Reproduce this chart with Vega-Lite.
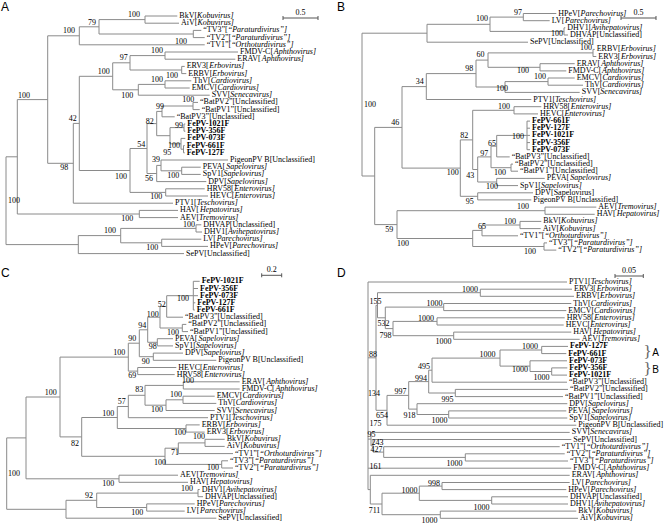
{
"$schema": "https://vega.github.io/schema/vega-lite/v6.json",
"width": 664, "height": 525, "padding": 0, "autosize": {"type": "none"},
"background": "white",
"config": {"view": {"stroke": null}, "text": {"fill": "#000"}},
"datasets": {
"tree": [
{"x0":99,"x":145,"y":19.6,"ya":16,"yb":23.2},
{"x0":99,"x":193.3,"y":34,"ya":30.4,"yb":37.6},
{"x0":79.3,"x":99,"y":26.8,"ya":19.6,"yb":34},
{"x0":47.7,"x":79.3,"y":35.8,"ya":26.8,"yb":44.8},
{"x0":130,"x":165,"y":55.6,"ya":52,"yb":59.2},
{"x0":130,"x":181.7,"y":70,"ya":66.4,"yb":73.6},
{"x0":112.7,"x":130,"y":62.8,"ya":55.6,"yb":70},
{"x0":138.3,"x":165,"y":84.4,"ya":80.8,"yb":88},
{"x0":112.7,"x":138.3,"y":89.8,"ya":84.4,"yb":95.2},
{"x0":79.3,"x":112.7,"y":76.3,"ya":62.8,"yb":89.8},
{"x0":162,"x":193,"y":106,"ya":102.4,"yb":109.6},
{"x0":156.7,"x":162,"y":111.4,"ya":106,"yb":116.8},
{"x0":170,"x":184,"y":127.6,"ya":124,"yb":131.2},
{"x0":181,"x":183.5,"y":149.2,"ya":145.6,"yb":152.8},
{"x0":170,"x":181,"y":143.8,"ya":138.4,"yb":149.2},
{"x0":156.7,"x":170,"y":135.7,"ya":127.6,"yb":143.8},
{"x0":147,"x":156.7,"y":123.6,"ya":111.4,"yb":135.7},
{"x0":161,"x":181.7,"y":170.8,"ya":167.2,"yb":174.4},
{"x0":156.7,"x":161,"y":165.4,"ya":160,"yb":170.8},
{"x0":147,"x":156.7,"y":173.5,"ya":165.4,"yb":181.6},
{"x0":130,"x":147,"y":148.5,"ya":123.6,"yb":173.5},
{"x0":130,"x":165.7,"y":192.4,"ya":188.8,"yb":196},
{"x0":79.3,"x":130,"y":170.5,"ya":148.5,"yb":192.4},
{"x0":73.3,"x":79.3,"y":123.4,"ya":76.3,"yb":170.5},
{"x0":47.7,"x":73.3,"y":163.3,"ya":123.4,"yb":203.2},
{"x0":17.3,"x":47.7,"y":99.6,"ya":35.8,"yb":163.3},
{"x0":17.3,"x":139.3,"y":214,"ya":210.4,"yb":217.6},
{"x0":6,"x":17.3,"y":156.8,"ya":99.6,"yb":214},
{"x0":120.7,"x":196,"y":228.4,"ya":224.8,"yb":232},
{"x0":120.7,"x":161.7,"y":242.8,"ya":239.2,"yb":246.4},
{"x0":78.3,"x":120.7,"y":235.6,"ya":228.4,"yb":242.8},
{"x0":6,"x":78.3,"y":244.6,"ya":235.6,"yb":253.6},
{"x0":6,"x":6,"y":200.7,"ya":156.8,"yb":244.6},
{"x0":145,"x":177.3,"y":16,"n":"BkV","g":"Kobuvirus"},
{"x0":145,"x":179,"y":23.2,"n":"AiV","g":"Kobuvirus"},
{"x0":193.3,"x":201.3,"y":30.4,"n":"“TV3”","g":"“Paraturdivirus”"},
{"x0":193.3,"x":204.7,"y":37.6,"n":"“TV2”","g":"“Paraturdivirus”"},
{"x0":79.3,"x":204.7,"y":44.8,"n":"“TV1”","g":"“Orthoturdivirus”"},
{"x0":165,"x":238,"y":52,"n":"FMDV-C","g":"Aphthovirus"},
{"x0":165,"x":235.3,"y":59.2,"n":"ERAV","g":"Aphthovirus"},
{"x0":181.7,"x":184.7,"y":66.4,"n":"ERV3","g":"Erbovirus"},
{"x0":181.7,"x":186.3,"y":73.6,"n":"ERBV","g":"Erbovirus"},
{"x0":165,"x":191.3,"y":80.8,"n":"ThV","g":"Cardiovirus"},
{"x0":165,"x":189.7,"y":88,"n":"EMCV","g":"Cardiovirus"},
{"x0":138.3,"x":209.7,"y":95.2,"n":"SVV","g":"Senecavirus"},
{"x0":193,"x":198,"y":102.4,"n":"“BatPV2”[Unclassified]"},
{"x0":193,"x":199.7,"y":109.6,"n":"“BatPV1”[Unclassified]"},
{"x0":162,"x":174.7,"y":116.8,"n":"“BatPV3”[Unclassified]"},
{"x0":184,"x":185.3,"y":124,"n":"FePV-1021F"},
{"x0":184,"x":185.3,"y":131.2,"n":"FePV-356F"},
{"x0":181,"x":185.3,"y":138.4,"n":"FePV-073F"},
{"x0":183.5,"x":184.7,"y":145.6,"n":"FePV-661F"},
{"x0":183.5,"x":184.7,"y":152.8,"n":"FePV-127F"},
{"x0":161,"x":228,"y":160,"n":"PigeonPV B[Unclassified]"},
{"x0":181.7,"x":200.7,"y":167.2,"n":"PEVA","g":"Sapelovirus"},
{"x0":181.7,"x":200.7,"y":174.4,"n":"SpV1","g":"Sapelovirus"},
{"x0":156.7,"x":206.3,"y":181.6,"n":"DPV","g":"Sapelovirus"},
{"x0":165.7,"x":204.7,"y":188.8,"n":"HRV58","g":"Enterovirus"},
{"x0":165.7,"x":208,"y":196,"n":"HEVC","g":"Enterovirus"},
{"x0":73.3,"x":173,"y":203.2,"n":"PTV1","g":"Teschovirus"},
{"x0":139.3,"x":178,"y":210.4,"n":"HAV","g":"Hepatovirus"},
{"x0":139.3,"x":178,"y":217.6,"n":"AEV","g":"Tremovirus"},
{"x0":196,"x":201.3,"y":224.8,"n":"DHVAP[Unclassified]"},
{"x0":196,"x":202,"y":232,"n":"DHV1","g":"Avihepatovirus"},
{"x0":161.7,"x":201.3,"y":239.2,"n":"LV","g":"Parechovirus"},
{"x0":161.7,"x":208,"y":246.4,"n":"HPeV","g":"Parechovirus"},
{"x0":78.3,"x":184,"y":253.6,"n":"SePV[Unclassified]"},

{"x0":490,"x":523.3,"y":17.1,"ya":13.5,"yb":20.7},
{"x0":490,"x":564,"y":31.4,"ya":27.8,"yb":35},
{"x0":427,"x":490,"y":24.3,"ya":17.1,"yb":31.4},
{"x0":362,"x":427,"y":33.2,"ya":24.3,"yb":42.2},
{"x0":488,"x":593,"y":52.9,"ya":49.4,"yb":56.5},
{"x0":488,"x":540,"y":67.3,"ya":63.7,"yb":70.9},
{"x0":476,"x":488,"y":60.1,"ya":52.9,"yb":67.3},
{"x0":505,"x":548,"y":81.6,"ya":78,"yb":85.2},
{"x0":476,"x":505,"y":87,"ya":81.6,"yb":92.4},
{"x0":426.3,"x":476,"y":73.6,"ya":60.1,"yb":87},
{"x0":402,"x":426.3,"y":86.6,"ya":73.6,"yb":99.5},
{"x0":472.7,"x":514,"y":110.3,"ya":106.7,"yb":113.9},
{"x0":496.7,"x":527,"y":135.4,"ya":121.1,"yb":149.7},
{"x0":491,"x":496.7,"y":146.2,"ya":135.4,"yb":156.9},
{"x0":491,"x":511,"y":167.7,"ya":164.1,"yb":171.2},
{"x0":477.7,"x":491,"y":156.9,"ya":146.2,"yb":167.7},
{"x0":477.7,"x":496.7,"y":182,"ya":178.4,"yb":185.6},
{"x0":472.7,"x":477.7,"y":169.5,"ya":156.9,"yb":182},
{"x0":460.3,"x":472.7,"y":139.9,"ya":110.3,"yb":169.5},
{"x0":460.3,"x":477.7,"y":196.3,"ya":192.8,"yb":199.9},
{"x0":402,"x":460.3,"y":168.1,"ya":139.9,"yb":196.3},
{"x0":374.7,"x":402,"y":127.4,"ya":86.6,"yb":168.1},
{"x0":397,"x":545,"y":210.7,"ya":207.1,"yb":214.3},
{"x0":482,"x":520,"y":225,"ya":221.4,"yb":228.6},
{"x0":472.7,"x":482,"y":230.4,"ya":225,"yb":235.8},
{"x0":472.7,"x":544,"y":246.5,"ya":242.9,"yb":250.1},
{"x0":397,"x":472.7,"y":238.5,"ya":230.4,"yb":246.5},
{"x0":374.7,"x":397,"y":224.6,"ya":210.7,"yb":238.5},
{"x0":362,"x":374.7,"y":176,"ya":127.4,"yb":224.6},
{"x0":362,"x":362,"y":104.6,"ya":33.2,"yb":176},
{"x0":523.3,"x":556.3,"y":13.5,"n":"HPeV","g":"Parechovirus"},
{"x0":523.3,"x":549.7,"y":20.7,"n":"LV","g":"Parechovirus"},
{"x0":564,"x":565.3,"y":27.8,"n":"DHV1","g":"Avihepatovirus"},
{"x0":564,"x":568,"y":35,"n":"DHVAP[Unclassified]"},
{"x0":427,"x":528,"y":42.2,"n":"SePV[Unclassified]"},
{"x0":593,"x":594.7,"y":49.4,"n":"ERBV","g":"Erbovirus"},
{"x0":593,"x":596.3,"y":56.5,"n":"ERV3","g":"Erbovirus"},
{"x0":540,"x":574.7,"y":63.7,"n":"ERAV","g":"Aphthovirus"},
{"x0":540,"x":566.3,"y":70.9,"n":"FMDV-C","g":"Aphthovirus"},
{"x0":548,"x":574.7,"y":78,"n":"EMCV","g":"Cardiovirus"},
{"x0":548,"x":583,"y":85.2,"n":"ThV","g":"Cardiovirus"},
{"x0":505,"x":579.7,"y":92.4,"n":"SVV","g":"Senecavirus"},
{"x0":426.3,"x":531.3,"y":99.5,"n":"PTV1","g":"Teschovirus"},
{"x0":514,"x":541.3,"y":106.7,"n":"HRV58","g":"Enterovirus"},
{"x0":514,"x":538,"y":113.9,"n":"HEVC","g":"Enterovirus"},
{"x0":527,"x":530,"y":121.1,"n":"FePV-661F"},
{"x0":527,"x":530,"y":128.2,"n":"FePV-127F"},
{"x0":527,"x":530,"y":135.4,"n":"FePV-1021F"},
{"x0":527,"x":530,"y":142.6,"n":"FePV-356F"},
{"x0":527,"x":530,"y":149.7,"n":"FePV-073F"},
{"x0":496.7,"x":509.7,"y":156.9,"n":"“BatPV3”[Unclassified]"},
{"x0":511,"x":513,"y":164.1,"n":"“BatPV2”[Unclassified]"},
{"x0":511,"x":518,"y":171.2,"n":"“BatPV1”[Unclassified]"},
{"x0":496.7,"x":544.7,"y":178.4,"n":"PEVA","g":"Sapelovirus"},
{"x0":496.7,"x":518,"y":185.6,"n":"SpV1","g":"Sapelovirus"},
{"x0":477.7,"x":533,"y":192.8,"n":"DPV[Sapelovirus]"},
{"x0":477.7,"x":531.3,"y":199.9,"n":"PigeonPV B[Unclassified]"},
{"x0":545,"x":596.3,"y":207.1,"n":"AEV","g":"Tremovirus"},
{"x0":545,"x":594.7,"y":214.3,"n":"HAV","g":"Hepatovirus"},
{"x0":520,"x":541.3,"y":221.4,"n":"BkV","g":"Kobuvirus"},
{"x0":520,"x":540.7,"y":228.6,"n":"AiV","g":"Kobuvirus"},
{"x0":482,"x":518,"y":235.8,"n":"“TV1”","g":"“Orthoturdivirus”"},
{"x0":544,"x":547,"y":242.9,"n":"“TV3”","g":"“Paraturdivirus”"},
{"x0":544,"x":556.3,"y":250.1,"n":"“TV2”","g":"“Paraturdivirus”"},

{"x0":166.7,"x":193.3,"y":295.7,"ya":281.3,"yb":310},
{"x0":160,"x":166.7,"y":306.4,"ya":295.7,"yb":317.2},
{"x0":160,"x":182.3,"y":328,"ya":324.4,"yb":331.6},
{"x0":147.7,"x":160,"y":317.2,"ya":306.4,"yb":328},
{"x0":147.7,"x":157.3,"y":342.3,"ya":338.7,"yb":345.9},
{"x0":139.3,"x":147.7,"y":329.8,"ya":317.2,"yb":342.3},
{"x0":139.3,"x":153.3,"y":356.7,"ya":353.1,"yb":360.3},
{"x0":128.3,"x":139.3,"y":343.2,"ya":329.8,"yb":356.7},
{"x0":128.3,"x":137.7,"y":371.1,"ya":367.5,"yb":374.6},
{"x0":60,"x":128.3,"y":357.1,"ya":343.2,"yb":371.1},
{"x0":145,"x":183.3,"y":385.4,"ya":381.8,"yb":389},
{"x0":166,"x":183,"y":399.8,"ya":396.2,"yb":403.4},
{"x0":145,"x":166,"y":405.2,"ya":399.8,"yb":410.5},
{"x0":128.3,"x":145,"y":395.3,"ya":385.4,"yb":405.2},
{"x0":117.3,"x":128.3,"y":406.5,"ya":395.3,"yb":417.7},
{"x0":117.3,"x":186,"y":428.5,"ya":424.9,"yb":432.1},
{"x0":81.7,"x":117.3,"y":417.5,"ya":406.5,"yb":428.5},
{"x0":178.3,"x":205,"y":442.9,"ya":439.3,"yb":446.4},
{"x0":165,"x":178.3,"y":448.2,"ya":442.9,"yb":453.6},
{"x0":165,"x":221.7,"y":464.4,"ya":460.8,"yb":468},
{"x0":81.7,"x":165,"y":456.3,"ya":448.2,"yb":464.4},
{"x0":60,"x":81.7,"y":436.9,"ya":417.5,"yb":456.3},
{"x0":26,"x":60,"y":397,"ya":357.1,"yb":436.9},
{"x0":26,"x":119,"y":478.8,"ya":475.2,"yb":482.3},
{"x0":6.7,"x":26,"y":437.9,"ya":397,"yb":478.8},
{"x0":96.7,"x":198,"y":493.1,"ya":489.5,"yb":496.7},
{"x0":96.7,"x":146.7,"y":507.5,"ya":503.9,"yb":511.1},
{"x0":66,"x":96.7,"y":500.3,"ya":493.1,"yb":507.5},
{"x0":6.7,"x":66,"y":509.3,"ya":500.3,"yb":518.2},
{"x0":6.7,"x":6.7,"y":473.6,"ya":437.9,"yb":509.3},
{"x0":193.3,"x":199.7,"y":281.3,"n":"FePV-1021F"},
{"x0":193.3,"x":198,"y":288.5,"n":"FePV-356F"},
{"x0":193.3,"x":198,"y":295.7,"n":"FePV-073F"},
{"x0":193.3,"x":195.3,"y":302.8,"n":"FePV-127F"},
{"x0":193.3,"x":194.7,"y":310,"n":"FePV-661F"},
{"x0":166.7,"x":183,"y":317.2,"n":"“BatPV3”[Unclassified]"},
{"x0":182.3,"x":186.3,"y":324.4,"n":"“BatPV2”[Unclassified]"},
{"x0":182.3,"x":188,"y":331.6,"n":"“BatPV1”[Unclassified]"},
{"x0":157.3,"x":173,"y":338.7,"n":"PEVA","g":"Sapelovirus"},
{"x0":157.3,"x":173,"y":345.9,"n":"SpV1","g":"Sapelovirus"},
{"x0":153.3,"x":183,"y":353.1,"n":"DPV","g":"Sapelovirus"},
{"x0":153.3,"x":216.3,"y":360.3,"n":"PigeonPV B[Unclassified]"},
{"x0":137.7,"x":176.3,"y":367.5,"n":"HEVC","g":"Enterovirus"},
{"x0":137.7,"x":174.7,"y":374.6,"n":"HRV58","g":"Enterovirus"},
{"x0":183.3,"x":239.7,"y":381.8,"n":"ERAV","g":"Aphthovirus"},
{"x0":183.3,"x":239.7,"y":389,"n":"FMDV-C","g":"Aphthovirus"},
{"x0":183,"x":214.7,"y":396.2,"n":"EMCV","g":"Cardiovirus"},
{"x0":183,"x":216.3,"y":403.4,"n":"ThV","g":"Cardiovirus"},
{"x0":166,"x":214.7,"y":410.5,"n":"SVV","g":"Senecavirus"},
{"x0":128.3,"x":208,"y":417.7,"n":"PTV1","g":"Teschovirus"},
{"x0":186,"x":199.7,"y":424.9,"n":"ERBV","g":"Erbovirus"},
{"x0":186,"x":204.7,"y":432.1,"n":"ERV3","g":"Erbovirus"},
{"x0":205,"x":224.7,"y":439.3,"n":"BkV","g":"Kobuvirus"},
{"x0":205,"x":224.7,"y":446.4,"n":"AiV","g":"Kobuvirus"},
{"x0":178.3,"x":233,"y":453.6,"n":"“TV1”","g":"“Orthoturdivirus”"},
{"x0":221.7,"x":228,"y":460.8,"n":"“TV3”","g":"“Paraturdivirus”"},
{"x0":221.7,"x":233,"y":468,"n":"“TV2”","g":"“Paraturdivirus”"},
{"x0":119,"x":178,"y":475.2,"n":"AEV","g":"Tremovirus"},
{"x0":119,"x":188,"y":482.3,"n":"HAV","g":"Hepatovirus"},
{"x0":198,"x":199.7,"y":489.5,"n":"DHV1","g":"Avihepatovirus"},
{"x0":198,"x":203,"y":496.7,"n":"DHVAP[Unclassified]"},
{"x0":146.7,"x":194.7,"y":503.9,"n":"HPeV","g":"Parechovirus"},
{"x0":146.7,"x":184.7,"y":511.1,"n":"LV","g":"Parechovirus"},
{"x0":66,"x":216.3,"y":518.2,"n":"SePV[Unclassified]"},

{"x0":377.5,"x":480.3,"y":292.7,"ya":289.2,"yb":296.3},
{"x0":385.3,"x":443.7,"y":307.1,"ya":303.5,"yb":310.6},
{"x0":393,"x":437,"y":321.4,"ya":317.8,"yb":325},
{"x0":393,"x":453.7,"y":335.7,"ya":332.1,"yb":339.3},
{"x0":385.3,"x":393,"y":328.6,"ya":321.4,"yb":335.7},
{"x0":377.5,"x":385.3,"y":317.8,"ya":307.1,"yb":328.6},
{"x0":376,"x":377.5,"y":305.3,"ya":292.7,"yb":317.8},
{"x0":500,"x":541.7,"y":350,"ya":346.4,"yb":353.6},
{"x0":530,"x":551.7,"y":371.5,"ya":367.9,"yb":375.1},
{"x0":500,"x":530,"y":366.1,"ya":360.8,"yb":371.5},
{"x0":432,"x":500,"y":358.1,"ya":350,"yb":366.1},
{"x0":428.7,"x":432,"y":370.2,"ya":358.1,"yb":382.2},
{"x0":428.7,"x":455.3,"y":393,"ya":389.4,"yb":396.6},
{"x0":408.7,"x":428.7,"y":381.6,"ya":370.2,"yb":393},
{"x0":417,"x":448.7,"y":414.5,"ya":410.9,"yb":418},
{"x0":408.7,"x":417,"y":409.1,"ya":403.7,"yb":414.5},
{"x0":387,"x":408.7,"y":395.4,"ya":381.6,"yb":409.1},
{"x0":376,"x":387,"y":410.3,"ya":395.4,"yb":425.2},
{"x0":368,"x":376,"y":357.8,"ya":305.3,"yb":410.3},
{"x0":383.7,"x":465.3,"y":457.4,"ya":453.8,"yb":461},
{"x0":373,"x":383.7,"y":452.1,"ya":446.7,"yb":457.4},
{"x0":371,"x":373,"y":445.8,"ya":439.5,"yb":452.1},
{"x0":368,"x":371,"y":439.1,"ya":432.4,"yb":445.8},
{"x0":419.3,"x":442,"y":486.1,"ya":482.5,"yb":489.6},
{"x0":419.3,"x":491.7,"y":500.4,"ya":496.8,"yb":504},
{"x0":382,"x":419.3,"y":493.2,"ya":486.1,"yb":500.4},
{"x0":382,"x":440.3,"y":514.7,"ya":511.1,"yb":518.3},
{"x0":370.3,"x":382,"y":504,"ya":493.2,"yb":514.7},
{"x0":368,"x":370.3,"y":489.6,"ya":475.3,"yb":504},
{"x0":368,"x":368,"y":385,"ya":282,"yb":489.6},
{"x0":368,"x":567,"y":282,"n":"PTV1","g":"Teschovirus"},
{"x0":480.3,"x":572,"y":289.2,"n":"ERV3","g":"Erbovirus"},
{"x0":480.3,"x":574,"y":296.3,"n":"ERBV","g":"Erbovirus"},
{"x0":443.7,"x":571.3,"y":303.5,"n":"ThV","g":"Cardiovirus"},
{"x0":443.7,"x":566.3,"y":310.6,"n":"EMCV","g":"Cardiovirus"},
{"x0":437,"x":564.7,"y":317.8,"n":"HRV58","g":"Enterovirus"},
{"x0":437,"x":563.7,"y":325,"n":"HEVC","g":"Enterovirus"},
{"x0":453.7,"x":571.3,"y":332.1,"n":"HAV","g":"Hepatovirus"},
{"x0":453.7,"x":579.7,"y":339.3,"n":"AEV","g":"Tremovirus"},
{"x0":541.7,"x":568,"y":346.4,"n":"FePV-127F"},
{"x0":541.7,"x":566.3,"y":353.6,"n":"FePV-661F"},
{"x0":530,"x":567,"y":360.8,"n":"FePV-073F"},
{"x0":551.7,"x":567.3,"y":367.9,"n":"FePV-356F"},
{"x0":551.7,"x":567,"y":375.1,"n":"FePV-1021F"},
{"x0":432,"x":567,"y":382.2,"n":"“BatPV3”[Unclassified]"},
{"x0":455.3,"x":568,"y":389.4,"n":"“BatPV2”[Unclassified]"},
{"x0":455.3,"x":563,"y":396.6,"n":"“BatPV1”[Unclassified]"},
{"x0":417,"x":567.3,"y":403.7,"n":"DPV","g":"Sapelovirus"},
{"x0":448.7,"x":566.3,"y":410.9,"n":"PEVA","g":"Sapelovirus"},
{"x0":448.7,"x":567.3,"y":418,"n":"SpV1","g":"Sapelovirus"},
{"x0":387,"x":576.3,"y":425.2,"n":"PigeonPV B[Unclassified]"},
{"x0":371,"x":569.7,"y":432.4,"n":"SVV","g":"Senecavirus"},
{"x0":373,"x":571.3,"y":439.5,"n":"SePV[Unclassified]"},
{"x0":383.7,"x":559.7,"y":446.7,"n":"“TV1”","g":"“Orthoturdivirus”"},
{"x0":465.3,"x":564.7,"y":453.8,"n":"“TV2”","g":"“Paraturdivirus”"},
{"x0":465.3,"x":568,"y":461,"n":"“TV3”","g":"“Paraturdivirus”"},
{"x0":368,"x":571.3,"y":468.2,"n":"FMDV-C","g":"Aphthovirus"},
{"x0":370.3,"x":569.7,"y":475.3,"n":"ERAV","g":"Aphthovirus"},
{"x0":442,"x":569.7,"y":482.5,"n":"LV","g":"Parechovirus"},
{"x0":442,"x":566.3,"y":489.6,"n":"HPeV","g":"Parechovirus"},
{"x0":491.7,"x":568,"y":496.8,"n":"DHVAP[Unclassified]"},
{"x0":491.7,"x":568,"y":504,"n":"DHV1","g":"Avihepatovirus"},
{"x0":440.3,"x":576.3,"y":511.1,"n":"BkV","g":"Kobuvirus"},
{"x0":440.3,"x":578,"y":518.3,"n":"AiV","g":"Kobuvirus"}
],
"boot": [
{"x":134,"y":15,"t":"100"},{"x":92,"y":22.7,"t":"79"},{"x":69,"y":31,"t":"100"},{"x":181,"y":41.7,"t":"100"},
{"x":123.7,"y":58.3,"t":"97"},{"x":157,"y":51,"t":"100"},{"x":103.7,"y":71.7,"t":"100"},{"x":172,"y":76,"t":"100"},
{"x":157,"y":80,"t":"100"},{"x":127.3,"y":95.7,"t":"100"},{"x":24,"y":95.7,"t":"100"},{"x":188.3,"y":100,"t":"100"},
{"x":160,"y":106.7,"t":"99"},{"x":149.7,"y":121.7,"t":"82"},{"x":72.7,"y":119,"t":"42"},{"x":179,"y":126,"t":"99"},
{"x":141.3,"y":145,"t":"54"},{"x":174,"y":146,"t":"100"},{"x":167.3,"y":153.3,"t":"95"},{"x":156,"y":160,"t":"39"},
{"x":173.3,"y":175.7,"t":"100"},{"x":121,"y":176.7,"t":"100"},{"x":149,"y":179.3,"t":"56"},{"x":64.3,"y":168.3,"t":"98"},
{"x":156.3,"y":197,"t":"100"},{"x":14,"y":201,"t":"100"},{"x":127.3,"y":219,"t":"100"},{"x":110,"y":231,"t":"100"},
{"x":189,"y":225,"t":"100"},{"x":152.3,"y":248.3,"t":"100"},

{"x":482,"y":19,"t":"100"},{"x":518,"y":13.3,"t":"97"},{"x":557,"y":34,"t":"100"},{"x":586,"y":48.3,"t":"100"},
{"x":480.5,"y":55,"t":"60"},{"x":469.3,"y":69.3,"t":"98"},{"x":523,"y":71,"t":"100"},{"x":540,"y":77.3,"t":"100"},
{"x":502,"y":89.3,"t":"100"},{"x":419.7,"y":81.7,"t":"34"},{"x":504,"y":107.3,"t":"100"},{"x":370,"y":105,"t":"100"},
{"x":395.3,"y":122.7,"t":"46"},{"x":464.3,"y":135.7,"t":"82"},{"x":518,"y":136.7,"t":"100"},{"x":492,"y":144.3,"t":"65"},
{"x":484.3,"y":154,"t":"97"},{"x":500,"y":173.3,"t":"100"},{"x":470.3,"y":175.7,"t":"43"},{"x":452.7,"y":173.3,"t":"100"},
{"x":492,"y":186.7,"t":"100"},{"x":469.7,"y":201.7,"t":"95"},{"x":523,"y":206.7,"t":"100"},{"x":482,"y":226.7,"t":"65"},
{"x":510,"y":221.7,"t":"100"},{"x":389.3,"y":230,"t":"59"},{"x":403,"y":244,"t":"100"},{"x":530,"y":251.7,"t":"100"},

{"x":14,"y":473.7,"t":"100"},{"x":50.7,"y":393,"t":"100"},{"x":108.3,"y":483.7,"t":"100"},{"x":119.3,"y":352.7,"t":"100"},
{"x":75,"y":443.7,"t":"82"},{"x":132.3,"y":338.7,"t":"90"},{"x":132.3,"y":376.3,"t":"69"},{"x":145.7,"y":362,"t":"90"},
{"x":152.7,"y":347,"t":"98"},{"x":142.3,"y":326.3,"t":"94"},{"x":152.7,"y":315.3,"t":"100"},{"x":161.7,"y":305.3,"t":"52"},
{"x":183,"y":299.3,"t":"100"},{"x":173,"y":332.7,"t":"100"},{"x":108.3,"y":413.7,"t":"100"},{"x":121.7,"y":402,"t":"57"},
{"x":139.3,"y":390.3,"t":"83"},{"x":157,"y":410,"t":"100"},{"x":188,"y":381.3,"t":"100"},{"x":176,"y":395,"t":"100"},
{"x":180,"y":432.5,"t":"100"},{"x":199,"y":437,"t":"100"},{"x":175,"y":453.3,"t":"71"},{"x":160,"y":462.7,"t":"100"},
{"x":213,"y":468.3,"t":"100"},{"x":187,"y":489.3,"t":"100"},{"x":89,"y":496.3,"t":"92"},{"x":137.3,"y":512.7,"t":"100"},

{"x":470,"y":289.7,"t":"1000"},{"x":375.5,"y":302,"t":"155"},{"x":434.5,"y":303.7,"t":"1000"},{"x":426,"y":318.7,"t":"1000"},
{"x":383.5,"y":324.3,"t":"532"},{"x":385.5,"y":336,"t":"798"},{"x":443.5,"y":342,"t":"1000"},{"x":373,"y":355.3,"t":"88"},
{"x":530,"y":347,"t":"1000"},{"x":487.5,"y":355.3,"t":"1000"},{"x":424,"y":367,"t":"495"},{"x":520,"y":370.3,"t":"1000"},
{"x":541.5,"y":378,"t":"1000"},{"x":421,"y":379.3,"t":"994"},{"x":400.5,"y":392,"t":"997"},{"x":374,"y":394.3,"t":"134"},
{"x":447.5,"y":399.7,"t":"995"},{"x":409.5,"y":416,"t":"918"},{"x":382,"y":416.3,"t":"654"},{"x":439.5,"y":421.3,"t":"1000"},
{"x":375.5,"y":424.3,"t":"175"},{"x":371.5,"y":434.7,"t":"95"},{"x":377.5,"y":443,"t":"243"},{"x":376.5,"y":449.7,"t":"427"},
{"x":454.5,"y":463.7,"t":"1000"},{"x":375.5,"y":467,"t":"161"},{"x":434,"y":483.7,"t":"998"},{"x":409.5,"y":491.3,"t":"1000"},
{"x":481.5,"y":507.7,"t":"1000"},{"x":374.5,"y":511.3,"t":"711"},{"x":429.5,"y":521.3,"t":"1000"}
],
"bars": [
{"x":283,"x2":318,"y":18},{"x":621,"x2":656,"y":18},{"x":261.7,"x2":281.7,"y":275.3},{"x":615,"x2":643.3,"y":276}
],
"ticks": [
{"x":283,"y":16,"y2":20},{"x":318,"y":16,"y2":20},
{"x":621,"y":16,"y2":20},{"x":656,"y":16,"y2":20},
{"x":261.7,"y":273.3,"y2":277.3},{"x":281.7,"y":273.3,"y2":277.3},
{"x":615,"y":274,"y2":278},{"x":643.3,"y":274,"y2":278}
],
"scaletext": [
{"x":300.5,"y":12.5,"t":"0.5"},{"x":638.5,"y":12.5,"t":"0.5"},{"x":271.7,"y":270.3,"t":"0.2"},{"x":629,"y":271,"t":"0.05"}
],
"letters": [
{"x":1,"y":7,"t":"A"},{"x":337,"y":7,"t":"B"},{"x":1,"y":273,"t":"C"},{"x":337,"y":273,"t":"D"}
],
"braces": [
{"x":647.5,"y":352,"t":"}"},{"x":647.5,"y":369.3,"t":"}"}
],
"groups": [
{"x":655.5,"y":352.5,"t":"A"},{"x":655.5,"y":369.5,"t":"B"}
]
},
"layer": [
{
"data": {"name": "tree"},
"mark": {"type": "rule", "color": "#8a8a8a", "strokeWidth": 1},
"encoding": {
"x": {"field": "x0", "type": "quantitative", "scale": {"domain": [0, 664], "nice": false, "zero": false}, "axis": null},
"x2": {"field": "x"},
"y": {"field": "y", "type": "quantitative", "scale": {"domain": [0, 525], "nice": false, "zero": false, "reverse": true}, "axis": null}
}
},
{
"data": {"name": "tree"},
"transform": [{"filter": "isValid(datum.ya)"}],
"mark": {"type": "rule", "color": "#8a8a8a", "strokeWidth": 1},
"encoding": {
"x": {"field": "x", "type": "quantitative", "axis": null},
"y": {"field": "ya", "type": "quantitative", "axis": null},
"y2": {"field": "yb"}
}
},
{
"data": {"name": "tree"},
"transform": [
{"filter": "isValid(datum.n) && substring(datum.n,0,4) != 'FePV'"},
{"calculate": "isValid(datum.g) ? datum.n + '[' : datum.n", "as": "t1"}
],
"mark": {"type": "text", "align": "left", "baseline": "middle", "dx": 2, "font": "Liberation Serif", "fontSize": 8, "fill": "#000"},
"encoding": {
"x": {"field": "x", "type": "quantitative", "axis": null},
"y": {"field": "y", "type": "quantitative", "axis": null},
"text": {"field": "t1"}
}
},
{
"data": {"name": "tree"},
"transform": [
{"filter": "isValid(datum.g)"},
{"calculate": "datum.n + '['", "as": "t1"},
{"calculate": "datum.x + 2 + 8*(0.889*length(replace(datum.t1,regexp('[^MWm]','g'),'')) + 0.722*length(replace(datum.t1,regexp('[^ADGHKNOQUVXYw]','g'),'')) + 0.667*length(replace(datum.t1,regexp('[^BCR]','g'),'')) + 0.611*length(replace(datum.t1,regexp('[^ELTZ]','g'),'')) + 0.556*length(replace(datum.t1,regexp('[^FPS]','g'),'')) + 0.5*length(replace(datum.t1,regexp('[^bdghknopquvxy0-9]','g'),'')) + 0.444*length(replace(datum.t1,regexp('[^acez“”]','g'),'')) + 0.389*length(replace(datum.t1,regexp('[^sJ]','g'),'')) + 0.333*length(replace(datum.t1,regexp('[^Ifr[-]','g'),'')) + 0.278*length(replace(datum.t1,regexp('[^ijlt]','g'),'')) + 0.25*length(replace(datum.t1,regexp('[^ ]','g'),'')))", "as": "gx"},
{"calculate": "datum.g + ']'", "as": "t2"}
],
"mark": {"type": "text", "align": "left", "baseline": "middle", "font": "Liberation Serif", "fontSize": 8, "fontStyle": "italic", "fill": "#000"},
"encoding": {
"x": {"field": "gx", "type": "quantitative", "axis": null},
"y": {"field": "y", "type": "quantitative", "axis": null},
"text": {"field": "t2"}
}
},
{
"data": {"name": "tree"},
"transform": [{"filter": "isValid(datum.n) && substring(datum.n,0,4) == 'FePV'"}],
"mark": {"type": "text", "align": "left", "baseline": "middle", "dx": 2, "font": "Liberation Serif", "fontSize": 8, "fontWeight": "bold", "fill": "#000"},
"encoding": {
"x": {"field": "x", "type": "quantitative", "axis": null},
"y": {"field": "y", "type": "quantitative", "axis": null},
"text": {"field": "n"}
}
},
{
"data": {"name": "boot"},
"mark": {"type": "text", "align": "center", "baseline": "middle", "font": "Liberation Serif", "fontSize": 8, "fill": "#000"},
"encoding": {
"x": {"field": "x", "type": "quantitative", "axis": null},
"y": {"field": "y", "type": "quantitative", "axis": null},
"text": {"field": "t"}
}
},
{
"data": {"name": "bars"},
"mark": {"type": "rule", "color": "#555", "strokeWidth": 1},
"encoding": {
"x": {"field": "x", "type": "quantitative", "axis": null},
"x2": {"field": "x2"},
"y": {"field": "y", "type": "quantitative", "axis": null}
}
},
{
"data": {"name": "ticks"},
"mark": {"type": "rule", "color": "#555", "strokeWidth": 1},
"encoding": {
"x": {"field": "x", "type": "quantitative", "axis": null},
"y": {"field": "y", "type": "quantitative", "axis": null},
"y2": {"field": "y2"}
}
},
{
"data": {"name": "scaletext"},
"mark": {"type": "text", "align": "center", "baseline": "middle", "font": "Liberation Serif", "fontSize": 8, "fill": "#000"},
"encoding": {
"x": {"field": "x", "type": "quantitative", "axis": null},
"y": {"field": "y", "type": "quantitative", "axis": null},
"text": {"field": "t"}
}
},
{
"data": {"name": "letters"},
"mark": {"type": "text", "align": "left", "baseline": "middle", "font": "Liberation Sans", "fontSize": 12, "fill": "#000"},
"encoding": {
"x": {"field": "x", "type": "quantitative", "axis": null},
"y": {"field": "y", "type": "quantitative", "axis": null},
"text": {"field": "t"}
}
},
{
"data": {"name": "braces"},
"mark": {"type": "text", "align": "center", "baseline": "middle", "font": "Liberation Serif", "fontSize": 17, "fill": "#666"},
"encoding": {
"x": {"field": "x", "type": "quantitative", "axis": null},
"y": {"field": "y", "type": "quantitative", "axis": null},
"text": {"field": "t"}
}
},
{
"data": {"name": "groups"},
"mark": {"type": "text", "align": "center", "baseline": "middle", "font": "Liberation Sans", "fontSize": 10, "fill": "#000"},
"encoding": {
"x": {"field": "x", "type": "quantitative", "axis": null},
"y": {"field": "y", "type": "quantitative", "axis": null},
"text": {"field": "t"}
}
}
]
}
